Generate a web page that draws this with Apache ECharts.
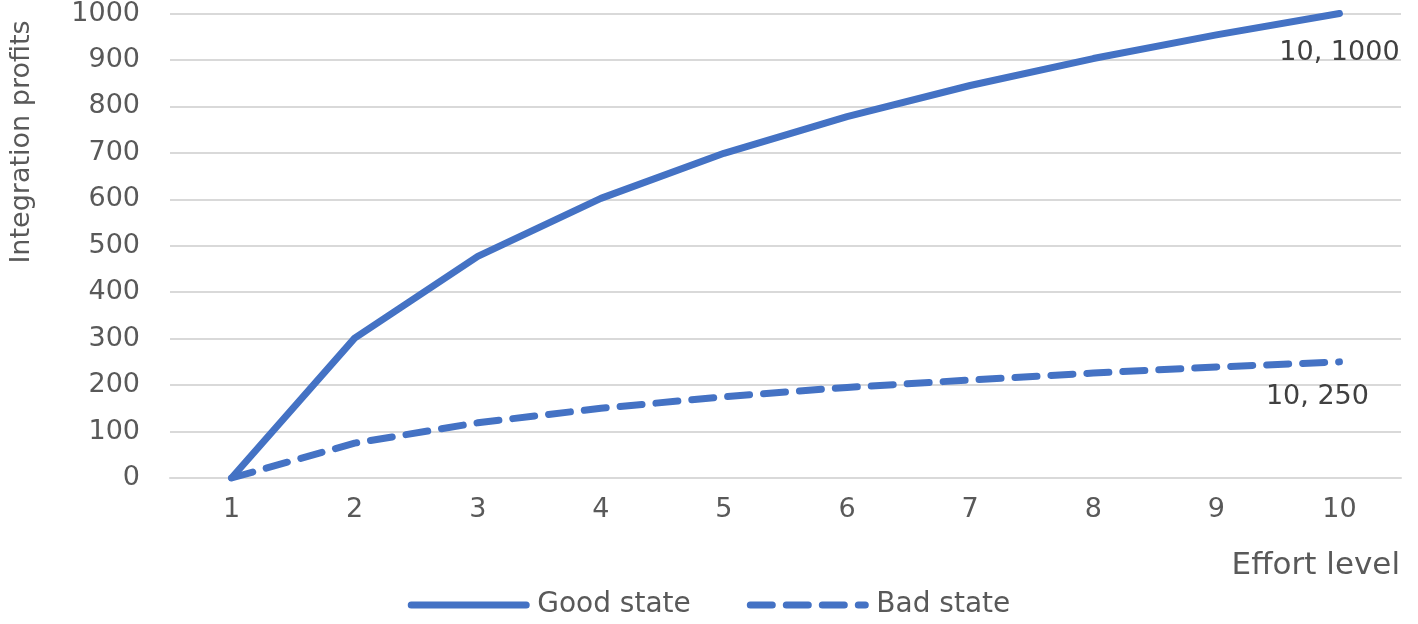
<!DOCTYPE html>
<html>
<head>
<meta charset="UTF-8">
<title>Integration profits</title>
<script src="https://cdn.jsdelivr.net/npm/echarts@6/dist/echarts.min.js"></script>
<style>
  body { margin: 0; background: #fff; }
  #main { width: 1418px; height: 624px; }
</style>
</head>
<body>
<div id="main"></div>
<script>
var blue = '#4472C4';
var txt = '#595959';

// data
var effortLevels = ['1', '2', '3', '4', '5', '6', '7', '8', '9', '10'];
var goodState = [0, 301, 477, 602, 699, 778, 845, 903, 954, 1000];
var badState = [0, 75, 119, 150, 175, 195, 211, 226, 239, 250];

var chart = echarts.init(document.getElementById('main'));

function endLabelOf(offset) {
    // "x, y" label under the last point
    return {
        show: true,
        distance: 0,
        align: 'center',
        verticalAlign: 'top',
        offset: offset,
        fontSize: 27,
        fontFamily: 'DejaVu Sans',
        color: '#404040',
        formatter: function (p) { return effortLevels[p.dataIndex] + ', ' + p.value; }
    };
}

var option = {
    animation: false,
    backgroundColor: '#fff',
    grid: { left: 170, right: 17, top: 12, bottom: 146 },
    legend: {
        bottom: 0,
        left: 'center',
        itemWidth: 115,
        itemHeight: 14,
        itemGap: 56,
        itemStyle: { opacity: 0 },
        lineStyle: { width: 7, cap: 'round' },
        textStyle: { fontSize: 28, fontFamily: 'DejaVu Sans', color: txt, padding: [0, 0, 0, 6] },
        data: ['Good state', 'Bad state']
    },
    xAxis: {
        type: 'category',
        data: effortLevels,
        boundaryGap: true,
        axisLine: { show: true, lineStyle: { color: '#d9d9d9', width: 2 } },
        axisTick: { show: false },
        axisLabel: { margin: 18, fontSize: 27, fontFamily: 'DejaVu Sans', color: txt }
    },
    yAxis: {
        type: 'value',
        min: 0,
        max: 1000,
        interval: 100,
        axisLine: { show: false },
        axisTick: { show: false },
        splitLine: { lineStyle: { color: '#d9d9d9', width: 2 } },
        axisLabel: {
            margin: 30, fontSize: 27, fontFamily: 'DejaVu Sans', color: txt,
            formatter: function (v) { return String(v); }
        }
    },
    graphic: [
        {
            type: 'text',
            x: 22, y: 142,
            rotation: Math.PI / 2,
            style: {
                text: 'Integration profits',
                fontSize: 27, fontFamily: 'DejaVu Sans', fill: txt,
                align: 'center', verticalAlign: 'middle'
            }
        },
        {
            type: 'text',
            right: 18, top: 550,
            style: {
                text: 'Effort level',
                fontSize: 31, fontFamily: 'DejaVu Sans', fill: txt
            }
        }
    ],
    series: [
        {
            name: 'Good state',
            type: 'line',
            symbol: 'none',
            color: blue,
            lineStyle: { color: blue, width: 7, cap: 'round', join: 'round' },
            endLabel: endLabelOf([0, 26]),
            data: goodState
        },
        {
            name: 'Bad state',
            type: 'line',
            symbol: 'none',
            color: blue,
            lineStyle: { color: blue, width: 7, type: [22, 14], cap: 'round' },
            endLabel: endLabelOf([-22, 22]),
            data: badState
        }
    ]
};

chart.setOption(option);
</script>
</body>
</html>
